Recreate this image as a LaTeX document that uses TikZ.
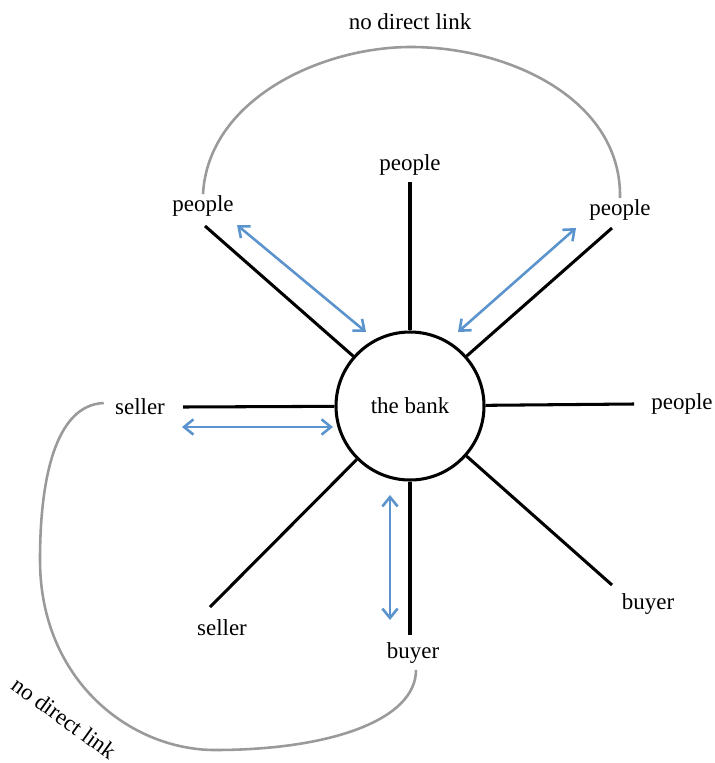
\documentclass[tikz,border=0pt]{standalone}
\usepackage{fontspec}
\setmainfont{Liberation Serif}
\usetikzlibrary{arrows.meta,calc}
\definecolor{flowblue}{HTML}{5B93CC}
\definecolor{linkgray}{HTML}{9A9A9A}
\newcommand\lblfont{\fontsize{19.6}{22}\selectfont}

\begin{document}
\begin{tikzpicture}[x=0.03cm,y=-0.03cm,>={Straight Barb[length=8pt,width=13pt]},
  lbl/.style={font=\lblfont,inner sep=1pt},
  spoke/.style={line width=2.6pt,black},
  flow/.style={flowblue,line width=2.2pt,<->},
  link/.style={linkgray,line width=2.2pt}]
\useasboundingbox (0,0) rectangle (714,763);
\node[circle,draw,line width=2.6pt,minimum size=4.44cm,inner sep=0,lbl] (bank) at (410,406) {the bank};

% labels round the bank
\node[lbl] (pT) at (410,165) {people};
\node[lbl] (pUL) at (203,206) {people};
\node[lbl] (pUR) at (620,210) {people};
\node[lbl] (pR) at (682,404) {people};
\node[lbl] (sL) at (140,407) {seller};
\node[lbl] (sLL) at (222,628) {seller};
\node[lbl] (bB) at (413,653) {buyer};
\node[lbl] (bLR) at (648,604) {buyer};
\node[lbl] (nT) at (410,22) {no direct link};
\node[lbl,rotate=-36] (nB) at (64,718) {no direct link};

% spoke ends
\coordinate (eT) at (410,182);
\coordinate (eUL) at (205,226);
\coordinate (eUR) at (612,228);
\coordinate (eR) at (634,404);
\coordinate (eL) at (183,407);
\coordinate (eLL) at (210,607);
\coordinate (eB) at (410,635);
\coordinate (eLR) at (612,585);
\foreach \e in {eT,eUL,eUR,eR,eL,eLL,eB,eLR}
  \draw[spoke] (bank) -- (\e);

% money flows
\coordinate (fUL) at (237,225);
\coordinate (gUL) at (366,332);
\coordinate (fUR) at (576,228);
\coordinate (gUR) at (458,332);
\coordinate (fL) at (182,427);
\coordinate (gL) at (333,427);
\coordinate (fB) at (390,620);
\coordinate (gB) at (390,495);
\draw[flow] (fUL) -- (gUL);
\draw[flow] (fUR) -- (gUR);
\draw[flow] (fL) -- (gL);
\draw[flow] (fB) -- (gB);

% no direct link
\draw[link] (pUL.north) .. controls (208,100) and (320,47) .. (411,47)
  .. controls (510,47) and (622,100) .. (pUR.north);
\draw[link] ($(sL.west)+(-10,-4)$) .. controls (55,405) and (40,480) .. (40,560)
  .. controls (40,680) and (130,750) .. (215,750)
  .. controls (330,750) and (416,720) .. ($(bB.south)+(3,5)$);
\end{tikzpicture}
\end{document}
